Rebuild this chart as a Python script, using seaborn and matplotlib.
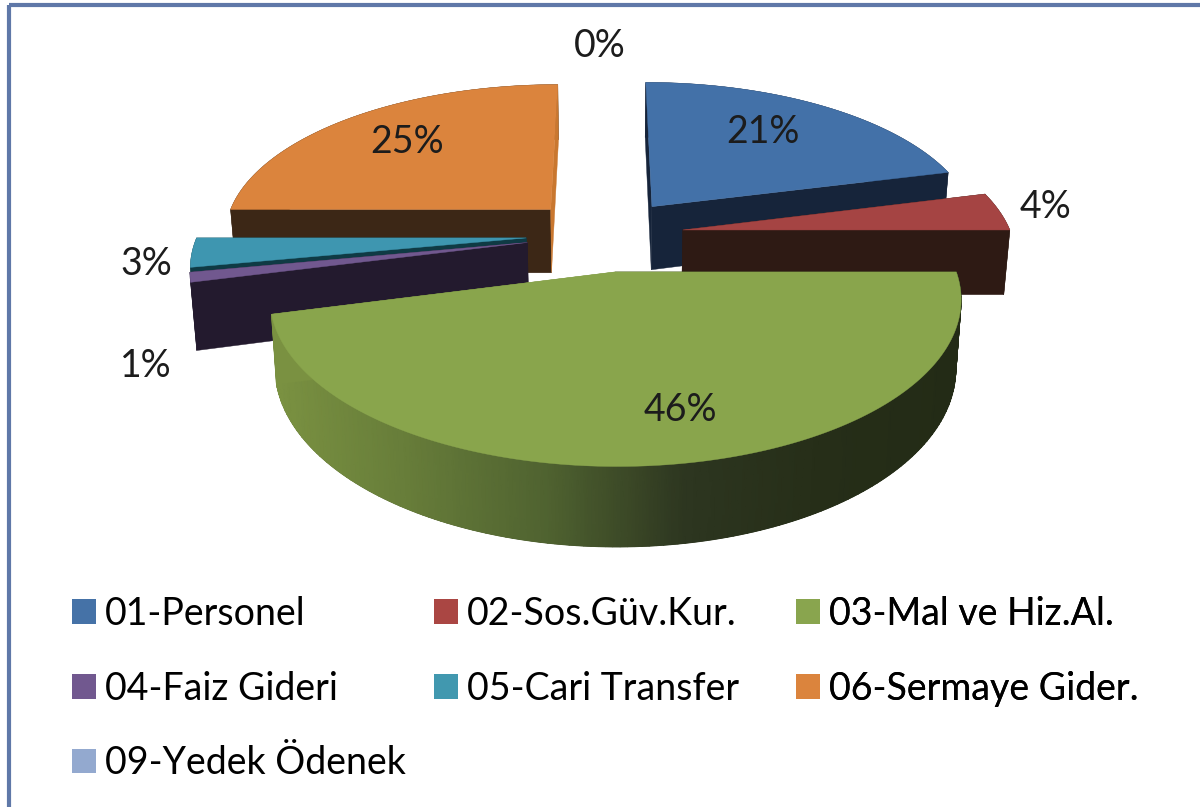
import numpy as np
import seaborn as sns
import matplotlib.pyplot as plt
from matplotlib.patches import Patch

# Data
categories = ['01-Personel', '02-Sos.Güv.Kur.', '03-Mal ve Hiz.Al.', '04-Faiz Gideri',
              '05-Cari Transfer', '06-Sermaye Gider.', '09-Yedek Ödenek']
values = [21, 4, 46, 1, 3, 25, 0]
pct_labels = ['21%', '4%', '46%', '1%', '3%', '25%', '0%']
top_colors = ['#4371a8', '#a54443', '#89a54c', '#71588f', '#3e96b0', '#db843d', '#93a9cf']
legend_colors = ['#4572a7', '#aa4643', '#89a54e', '#71588f', '#4198af', '#db843d', '#93a9cf']

# side faces: start radial, outer arc, end radial
side_colors = {
    0: ('#16243a', '#16243a', '#16243a'),
    1: ('#2e1a14', '#2e1a14', '#2e1a14'),
    2: ('#262e18', '#262e18', '#7a9141'),
    3: ('#231a2e', '#231a2e', '#231a2e'),
    4: ('#0f3a44', '#0f3a44', '#0f3a44'),
    5: ('#3c2716', '#3c2716', '#c9772f'),
    6: ('#93a9cf', '#93a9cf', '#93a9cf'),
}

# back to front
draw_order = [5, 0, 1, 4, 3, 2, 6]

label_pos = [(763, 132), (1045, 207), (680, 410), (146, 366), (146, 264), (407, 142), (600, 46)]

# projection of the pie plane
X0, Y0 = 605, 234.5
A, B = 328.5, 151.4
K = 0.155
EXPLODE = 0.24
DEPTH = 65


def project(xw, yw):
    s = 1 / (1 + K * yw)
    return X0 + A * xw * s, Y0 - B * yw * s, s


def drop(px, py, s):
    return X0 + (px - X0) * 0.985, py + DEPTH * s


sns.set_theme(style='white')
plt.rcParams['font.family'] = ['Lato', 'DejaVu Sans']
FS = 27

fig = plt.figure(figsize=(12, 8.07), dpi=100, facecolor='white')
ax = fig.add_axes([0, 0, 1, 1])

# frame, only left and top are in the picture
ax.plot([9, 9], [807, 5], color='#5f78a8', lw=3, solid_capstyle='butt')
ax.plot([9, 1200], [5, 5], color='#5f78a8', lw=3, solid_capstyle='butt')

green_side = sns.blend_palette(['#7a9141', '#667c39', '#4f6230', '#2d3620', '#262e18', '#232b16'],
                               as_cmap=True)

edges = np.cumsum([0] + values) / sum(values) * 2 * np.pi

for i in draw_order:
    if values[i] == 0:
        continue
    a0, a1 = edges[i], edges[i + 1]
    mid = (a0 + a1) / 2
    ox, oy = EXPLODE * np.sin(mid), EXPLODE * np.cos(mid)
    th = np.linspace(a0, a1, 160)
    ax_, ay_, s_ = project(ox + np.sin(th), oy + np.cos(th))
    cx, cy, cs = project(ox, oy)
    bx, by = drop(ax_, ay_, s_)
    cbx, cby = drop(cx, cy, cs)
    start_c, arc_c, end_c = side_colors[i]

    # outer wall
    ax.fill(np.r_[ax_, bx[::-1]], np.r_[ay_, by[::-1]], color=arc_c, lw=0.3)
    if i == 2:
        ax.pcolormesh(np.vstack([ax_, bx]), np.vstack([ay_, by]), np.vstack([ax_, ax_]),
                      shading='gouraud', cmap=green_side, vmin=275, vmax=960)

    # radial faces
    ax.fill([cx, ax_[0], bx[0], cbx], [cy, ay_[0], by[0], cby], color=start_c, lw=0.3)
    ax.fill([cx, ax_[-1], bx[-1], cbx], [cy, ay_[-1], by[-1], cby], color=end_c, lw=0.3)

    # top face
    ax.fill(np.r_[cx, ax_], np.r_[cy, ay_], color=top_colors[i], lw=0.3)

for txt, (lx, ly) in zip(pct_labels, label_pos):
    ax.text(lx, ly, txt, ha='center', va='center', fontsize=FS, color='#1c1c1c', zorder=5)

ax.set_xlim(0, 1200)
ax.set_ylim(807, 0)
ax.axis('off')

# legend, one per column so the columns stay evenly spaced
columns = [([0, 3, 6], 72), ([1, 4], 434), ([2, 5], 796)]
for idx, lx in columns:
    handles = [Patch(facecolor=legend_colors[k], edgecolor='none', label=categories[k]) for k in idx]
    leg = ax.legend(handles=handles, loc='upper left', bbox_to_anchor=(lx, 596),
                    bbox_transform=ax.transData, frameon=False, fontsize=FS,
                    handlelength=0.64, handleheight=0.64, handletextpad=0.25,
                    labelspacing=1.03, borderpad=0, borderaxespad=0, labelcolor='black')
    ax.add_artist(leg)

fig.savefig('out.png', dpi=100)
